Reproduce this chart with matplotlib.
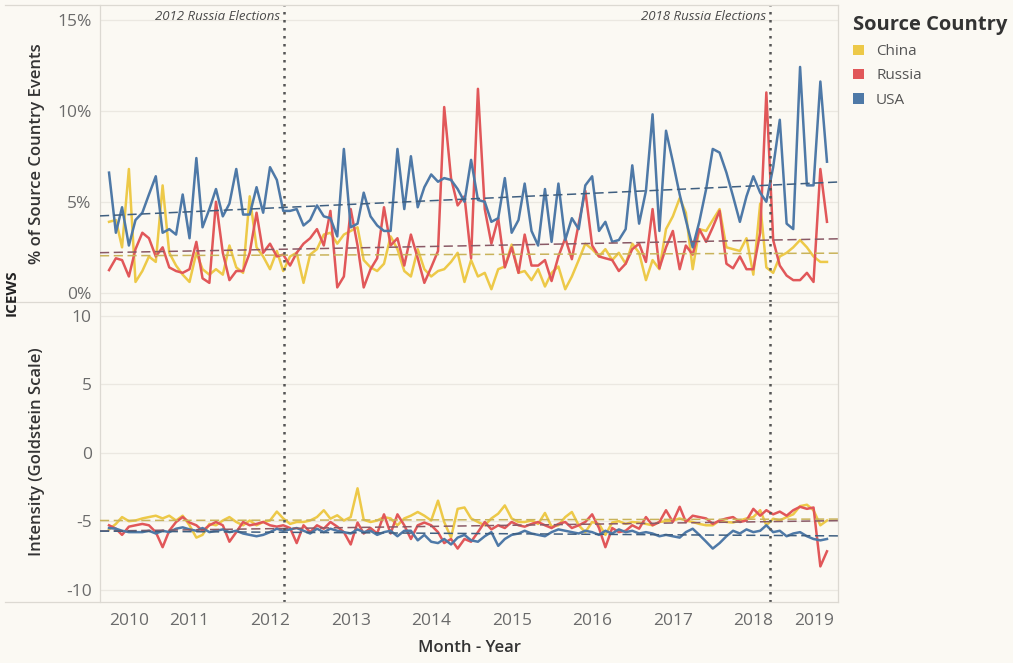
import matplotlib
matplotlib.use("Agg")
import matplotlib.pyplot as plt
import matplotlib.dates as mdates
import matplotlib.ticker as mticker
from matplotlib.lines import Line2D
from matplotlib.patches import Patch
import numpy as np
import pandas as pd

#######################################
# Data (monthly, Jan 2010 - Dec 2018)
#######################################
months = pd.date_range("2010-01-01", periods=108, freq="MS")
countries = ["China", "Russia", "USA"]
colors = {"China": "#edc948", "Russia": "#e15759", "USA": "#4e79a7"}
trend_colors = {"China": "#c9b35a", "Russia": "#8a5a66", "USA": "#3f5f80"}

# % of source country events
pct_china = [3.9, 4.0, 2.5, 6.8, 0.6, 1.2, 2.0, 1.7, 5.9, 2.2, 1.5, 1.0, 0.6, 2.2, 1.3, 1.0, 1.3, 1.0, 2.6, 1.4,
             1.1, 5.3, 2.5, 2.0, 1.3, 2.3, 1.2, 2.0,
             2.2, 0.55, 2.1, 2.4, 3.2, 3.3, 2.7, 3.2, 3.4, 3.6, 1.8, 1.4, 1.2, 1.6, 3.1, 2.4,
             1.2, 0.9, 2.4, 1.3, 0.9, 1.2, 1.3, 1.7, 2.2,
             0.6, 1.8, 0.9, 1.1, 0.2, 1.3, 1.45, 2.65, 1.1, 1.2, 0.7, 1.3, 0.35, 1.1, 1.45, 0.2, 0.9, 1.8, 2.7,
             2.4, 2.0, 2.4, 1.8, 2.2,
             1.6, 2.7, 2.2, 0.7, 1.8, 1.3, 3.5, 4.2, 5.2, 4.4, 1.3, 3.5, 3.4, 4.0, 4.6, 2.5, 2.4, 2.3, 3.0, 1.0,
             4.9, 1.4, 1.1, 2.0, 2.2, 2.5, 2.9, 2.5, 2.0, 1.7, 1.7]
pct_russia = [1.25, 1.9, 1.8, 0.9, 2.4, 3.3, 3.0, 2.0, 2.5, 1.4, 1.2, 1.1, 1.3, 2.8, 0.8, 0.55, 5.0, 2.2, 0.7, 1.2,
              1.2, 2.2, 4.4, 2.2, 2.7, 2.0, 2.1, 1.5,
              2.2, 2.7, 3.0, 3.5, 2.6, 4.5, 0.3, 0.9, 4.6, 2.6, 0.3, 1.3, 1.9, 4.7, 2.6, 3.0,
              1.5, 3.2, 1.9, 0.55, 1.4, 2.3, 10.2, 6.3, 4.8,
              5.3, 1.9, 11.2, 4.6, 2.7, 4.1, 1.4, 2.5, 1.1, 3.2, 1.5, 1.5, 1.8, 0.65, 2.0, 3.0, 1.85, 3.8, 5.6,
              2.6, 2.0, 1.9, 1.8, 1.2,
              1.6, 2.4, 2.7, 1.7, 4.6, 1.35, 2.5, 3.4, 1.3, 2.6, 2.1, 3.5, 2.8, 3.6, 4.5, 1.6, 1.35, 2.0, 1.3,
              1.3, 3.3, 11.0, 2.9, 1.5, 0.95, 0.7, 0.7, 1.1, 0.6, 6.8, 3.9]
pct_usa = [6.6, 3.3, 4.7, 2.6, 4.0, 4.4, 5.4, 6.4, 3.3, 3.5, 3.2, 5.4, 3.0, 7.4, 3.6, 4.6, 5.7, 4.2, 4.9, 6.8,
           4.3, 4.3, 5.8, 4.4, 6.9, 6.2, 4.5, 4.5,
           4.6, 3.7, 4.0, 4.8, 4.2, 4.1, 3.1, 7.9, 3.6, 3.8, 5.5, 4.2, 3.7, 3.4, 3.4, 7.9,
           4.6, 7.5, 4.7, 5.8, 6.5, 6.1, 6.3, 6.2, 5.7,
           5.0, 7.3, 5.1, 5.0, 3.9, 4.1, 6.3, 3.3, 4.0, 6.0, 3.4, 2.6, 5.7, 2.8, 6.0, 2.9, 4.1, 3.5, 5.9,
           6.4, 3.4, 3.9, 2.8, 2.9,
           3.5, 7.0, 3.8, 5.6, 9.8, 3.4, 8.9, 7.2, 5.4, 4.0, 2.5, 3.9, 5.7, 7.9, 7.7, 6.6, 5.3, 3.9, 5.3,
           6.4, 5.5, 5.0, 6.9, 9.5, 3.8, 3.5, 12.4, 5.9, 5.9, 11.6, 7.2]

# Intensity (Goldstein scale)
gold_china = [-5.6, -5.2, -4.7, -5.0, -4.95, -4.8, -4.7, -4.6, -4.8, -4.6, -4.95, -4.6, -5.3, -6.2, -6.0, -5.2,
              -5.3, -4.95, -4.7, -5.06, -5.3, -4.95, -5.3, -5.06, -4.95, -4.3, -4.8, -5.2, -5.06, -5.06, -4.95,
              -4.7, -4.2, -4.82, -4.57, -4.95,
              -4.7, -2.6, -4.9, -5.06, -4.95, -4.7, -4.8, -5.3, -4.8, -4.6, -4.33, -4.6, -4.95, -3.5, -5.06,
              -6.2, -4.1, -4.0, -4.8, -5.06, -5.3, -4.8, -4.45, -3.85, -4.8, -5.06, -5.06, -4.95, -5.2, -4.4,
              -5.4, -5.3, -4.7, -4.33, -5.3, -5.8,
              -5.06, -5.2, -6.0, -5.1, -5.0, -5.2, -5.06, -5.1, -5.2, -5.3, -5.06, -5.0, -4.95, -4.8, -4.95,
              -5.06, -5.2, -5.3, -5.3, -4.95, -5.06, -5.1, -4.95, -4.8, -4.7, -4.2, -5.3, -4.82, -4.95, -4.7,
              -4.5, -3.9, -3.8, -4.2, -5.3, -4.95]
gold_russia = [-5.3, -5.55, -6.0, -5.4, -5.3, -5.2, -5.3, -5.8, -6.9, -5.7, -5.06, -4.7, -5.1, -5.3, -5.7, -5.3,
               -5.06, -5.3, -6.5, -5.8, -5.06, -5.3, -5.2, -5.06, -5.3, -5.4, -5.3, -5.5, -6.6, -5.3, -5.8,
               -5.3, -5.55, -5.06, -5.4, -5.8,
               -6.7, -5.1, -5.9, -5.5, -5.9, -4.5, -5.9, -4.5, -5.3, -6.3, -5.3, -5.1, -5.3, -5.8, -6.6, -6.3,
               -7.0, -6.3, -6.5, -5.8, -5.06, -5.6, -5.3, -5.5, -5.06, -5.3, -5.4, -5.2, -5.06, -5.3, -5.5,
               -5.2, -5.06, -5.5, -5.3, -5.06,
               -4.5, -5.5, -6.9, -5.5, -5.8, -5.7, -5.3, -5.55, -4.7, -5.3, -5.06, -4.2, -5.06, -3.95, -5.06,
               -4.6, -4.7, -4.8, -5.2, -4.95, -4.8, -4.7, -5.06, -4.95, -4.1, -4.6, -4.2, -4.5, -4.3, -4.6,
               -4.2, -3.95, -4.1, -4.0, -8.3, -7.2]
gold_usa = [-5.5, -5.55, -5.7, -5.8, -5.8, -5.8, -5.7, -5.9, -5.7, -5.8, -5.55, -5.45, -5.6, -5.7, -5.5, -5.8,
            -5.7, -5.6, -5.8, -5.7, -5.9, -6.0, -6.1, -6.0, -5.8, -5.55, -5.7, -5.6, -5.5, -5.7, -5.9, -5.55,
            -5.8, -5.55, -5.7, -5.8,
            -5.9, -5.6, -5.8, -5.7, -6.0, -5.8, -5.7, -6.1, -5.7, -5.7, -6.4, -6.0, -6.5, -6.6, -6.3, -6.7,
            -6.2, -6.0, -6.4, -6.5, -6.1, -5.8, -6.8, -6.3, -6.0, -5.9, -5.7, -5.9, -6.0, -6.1, -5.8, -5.6,
            -5.7, -5.8, -5.9, -5.7,
            -5.8, -6.0, -5.7, -5.9, -5.6, -5.8, -5.7, -5.9, -5.8, -5.9, -6.1, -6.0, -6.1, -6.2, -5.8, -5.55,
            -6.0, -6.5, -7.0, -6.6, -6.1, -5.7, -5.9, -5.6, -5.8, -5.7, -5.3, -5.8, -5.7, -6.1, -5.9, -5.8,
            -6.1, -6.3, -6.4, -6.3]

pct = {"China": pct_china, "Russia": pct_russia, "USA": pct_usa}
gold = {"China": gold_china, "Russia": gold_russia, "USA": gold_usa}

elections = [("2012 Russia Elections", pd.Timestamp("2012-03-04")),
             ("2018 Russia Elections", pd.Timestamp("2018-03-18"))]
year_ticks = [pd.Timestamp(f"{y}-01-01") for y in range(2010, 2020)]
year_labels = [str(y) for y in range(2010, 2020)]

#######################################
# Plot
#######################################
bg = "#fbf9f3"
grid_c = "#ebe8e1"
border_c = "#dcd9d2"
plt.rcParams["font.family"] = ["Open Sans", "DejaVu Sans"]

W, H = 1013, 663
fig = plt.figure(figsize=(W / 100, H / 100), dpi=100, facecolor=bg)
left, right = 100 / W, 838 / W
ax_top = fig.add_axes([left, 1 - 302 / H, right - left, 297 / H], facecolor=bg)
ax_bot = fig.add_axes([left, 1 - 602 / H, right - left, 300 / H], facecolor=bg)

xlim = (pd.Timestamp("2009-11-21"), pd.Timestamp("2019-01-20"))
xn = mdates.date2num(months)
xl = mdates.date2num(list(xlim))

for ax, data in [(ax_top, pct), (ax_bot, gold)]:
    for c in countries:
        ax.plot(months, data[c], color=colors[c], lw=1.8, zorder=3)
    # linear trend lines across the whole pane
    for c in countries:
        k, b = np.polyfit(xn, data[c], 1)
        ax.plot(xlim, [k * xl[0] + b, k * xl[1] + b], color=trend_colors[c],
                lw=1.1, ls=(0, (6, 3)), zorder=4)
    for label, d in elections:
        ax.axvline(d, color="#555555", lw=1.8, ls=(0, (1, 2.2)), zorder=5)
    ax.set_xlim(xlim)
    ax.grid(axis="y", color=grid_c, lw=0.9)
    ax.set_axisbelow(True)
    ax.tick_params(length=0, labelsize=12.5, labelcolor="#6b6b6b")
    for s in ["top", "bottom"]:
        ax.spines[s].set_visible(False)
    for s in ["left", "right"]:
        ax.spines[s].set_color(border_c)
        ax.spines[s].set_linewidth(0.9)

# top pane
ax_top.set_ylim(-0.5, 15.8)
ax_top.set_yticks([0, 5, 10, 15])
ax_top.yaxis.set_major_formatter(mticker.FuncFormatter(lambda v, _: f"{int(v)}%"))
ax_top.tick_params(axis="x", labelbottom=False)
ax_top.tick_params(axis="y", pad=6)
ax_top.set_ylabel("% of Source Country Events", fontsize=12, fontweight="semibold", color="#333333")
ax_top.yaxis.set_label_coords(-0.075, 0.5)
for label, d in elections:
    ax_top.text(d - pd.Timedelta(days=18), 15.15, label, ha="right", va="center",
                style="italic", fontsize=9.5, color="#4a4a4a")

# bottom pane
ax_bot.set_ylim(-10.9, 11.0)
ax_bot.set_yticks([-10, -5, 0, 5, 10])
ax_bot.yaxis.set_major_formatter(mticker.FuncFormatter(lambda v, _: f"{int(v)}"))
ax_bot.tick_params(axis="y", pad=6)
ax_bot.set_xticks(year_ticks)
ax_bot.set_xticklabels(year_labels)
ax_bot.tick_params(axis="x", pad=8)
tl = ax_bot.get_xticklabels()
tl[0].set_ha("left")
tl[-1].set_ha("right")
ax_bot.set_ylabel("Intensity (Goldstein Scale)", fontsize=12, fontweight="semibold", color="#333333")
ax_bot.yaxis.set_label_coords(-0.075, 0.5)
ax_bot.set_xlabel("Month - Year", fontsize=12, fontweight="semibold", color="#333333")
ax_bot.xaxis.set_label_coords(0.5, -0.153)
ax_bot.xaxis.label.set_va("center")

# row dividers
for yp in [5, 302, 602]:
    fig.add_artist(Line2D([5 / W, right], [1 - yp / H, 1 - yp / H], color=border_c, lw=0.9))
fig.text(12 / W, 1 - 293 / H, "ICEWS", rotation=90, ha="center", va="center",
         rotation_mode="anchor", fontsize=11, fontweight="bold", color="#222222")

# legend
handles = [Patch(facecolor=colors[c], edgecolor="none", label=c) for c in countries]
leg = fig.legend(handles=handles, title="Source Country", loc="upper left",
                 bbox_to_anchor=(847 / W, 1 - 9 / H), frameon=False, fontsize=11,
                 title_fontsize=14.5, handlelength=0.7, handleheight=0.7,
                 handletextpad=0.8, labelspacing=0.6, alignment="left", borderaxespad=0)
leg.get_title().set_fontweight("bold")
leg.get_title().set_color("#333333")
for t in leg.get_texts():
    t.set_color("#555555")

fig.savefig("out.png", dpi=100, facecolor=bg)
